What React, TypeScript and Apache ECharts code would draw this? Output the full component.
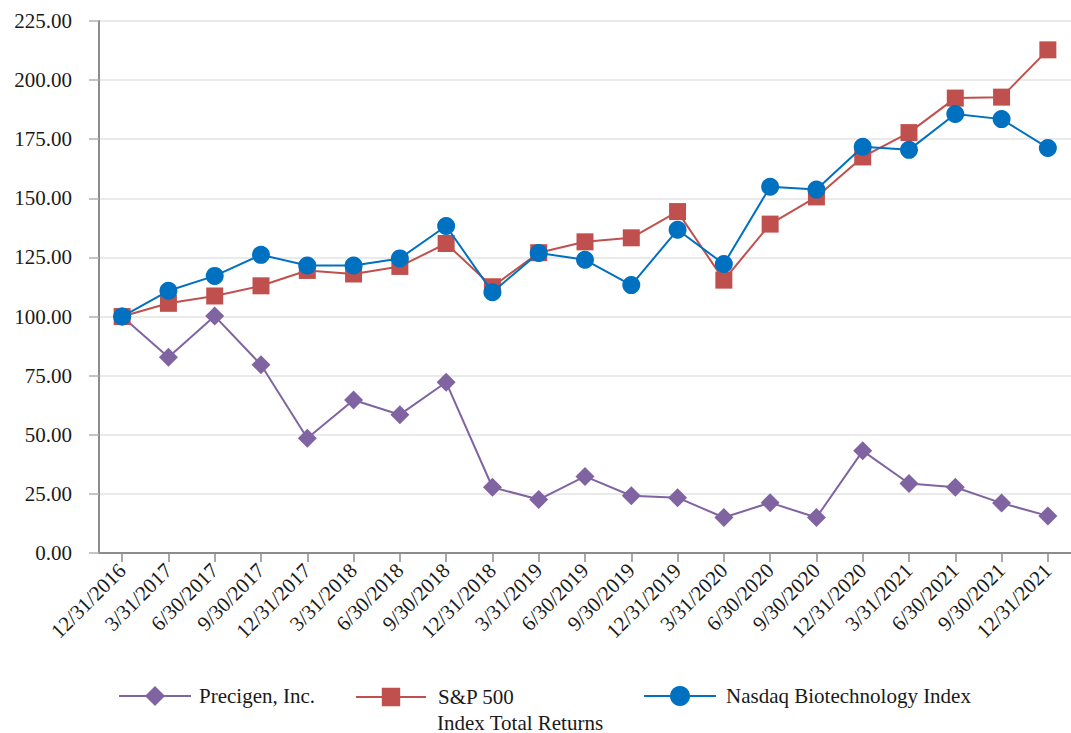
import React, { useEffect, useRef } from "react";
import * as echarts from "echarts";

const categories = [
  "12/31/2016", "3/31/2017", "6/30/2017", "9/30/2017", "12/31/2017",
  "3/31/2018", "6/30/2018", "9/30/2018", "12/31/2018", "3/31/2019",
  "6/30/2019", "9/30/2019", "12/31/2019", "3/31/2020", "6/30/2020",
  "9/30/2020", "12/31/2020", "3/31/2021", "6/30/2021", "9/30/2021",
  "12/31/2021",
];

const precigen = [100, 82.8, 100.2, 79.6, 48.5, 64.7, 58.5, 72.2, 27.8, 22.6, 32.4, 24.2, 23.4, 15.0, 21.3, 15.0, 43.2, 29.4, 27.8, 21.1, 15.7];
const sp500 = [100, 105.6, 108.7, 113.0, 119.5, 118.0, 121.2, 130.9, 112.6, 127.0, 131.6, 133.3, 144.4, 115.4, 139.1, 150.6, 167.5, 177.8, 192.4, 192.8, 212.8];
const nasdaq = [100, 110.9, 117.2, 126.1, 121.6, 121.6, 124.6, 138.3, 110.3, 126.9, 124.0, 113.3, 136.7, 122.2, 154.9, 153.7, 171.8, 170.5, 185.7, 183.5, 171.3];

const seriesNames = ["Precigen, Inc.", "S&P 500 Index Total Returns", "Nasdaq Biotechnology Index"];
const spLegendLines = ["S&P 500", "Index Total Returns"];
const yTicks = { min: 0, max: 225, interval: 25 };

const FONT = "Liberation Serif, Times New Roman, serif";
const PURPLE = "#8064A2";
const RED = "#C0504D";
const BLUE = "#0070C0";
const TEXT = "#1a1a1a";

export default function App() {
  const ref = useRef<HTMLDivElement>(null);
  useEffect(() => {
    if (!ref.current) return;
    const chart = echarts.init(ref.current, null, { renderer: "svg" });
    const legendBase = {
      orient: "horizontal",
      padding: 0,
      top: 685.5,
      itemHeight: 25,
      itemWidth: 72,
      selectedMode: false,
      textStyle: { fontFamily: FONT, fontSize: 21, color: TEXT },
    };
    chart.setOption({
      animation: false,
      backgroundColor: "#ffffff",
      textStyle: { fontFamily: FONT },
      grid: { left: 99, right: -10, top: 21, bottom: 180, containLabel: false },
      legend: [
        {
          ...legendBase,
          left: 118,
          data: [seriesNames[0]],
          textStyle: { ...legendBase.textStyle, padding: [0, 0, 0, 3] },
        },
        {
          ...legendBase,
          left: 355,
          top: 686.5,
          itemWidth: 70,
          itemHeight: 23,
          data: [seriesNames[1]],
          formatter: () => spLegendLines[0],
          textStyle: { ...legendBase.textStyle, padding: [0, 0, 0, 7] },
        },
        {
          ...legendBase,
          left: 643,
          data: [seriesNames[2]],
          textStyle: { ...legendBase.textStyle, padding: [0, 0, 0, 5] },
        },
      ],
      graphic: [
        {
          type: "text",
          left: 437,
          top: 712,
          style: {
            text: spLegendLines[1],
            fontFamily: FONT,
            fontSize: 21,
            lineHeight: 20,
            fill: TEXT,
          },
        },
      ],
      xAxis: {
        type: "category",
        data: categories,
        boundaryGap: true,
        axisLine: { show: true, lineStyle: { color: "#8c8c8c", width: 2 } },
        axisTick: { show: true, alignWithLabel: true, length: 9, lineStyle: { color: "#8c8c8c", width: 1.5 } },
        axisLabel: {
          interval: 0,
          rotate: 45,
          margin: 14,
          fontFamily: FONT,
          fontSize: 21,
          color: TEXT,
        },
        splitLine: { show: false },
      },
      yAxis: {
        type: "value",
        min: yTicks.min,
        max: yTicks.max,
        interval: yTicks.interval,
        axisLine: { show: true, lineStyle: { color: "#8c8c8c", width: 2 } },
        axisTick: { show: true, length: 10, lineStyle: { color: "#b0b0b0", width: 1.5 } },
        axisLabel: {
          margin: 27,
          fontFamily: FONT,
          fontSize: 21,
          color: TEXT,
          formatter: (v: number) => v.toFixed(2),
        },
        splitLine: { show: true, lineStyle: { color: "#e3e3e3", width: 1.5 } },
      },
      series: [
        {
          name: seriesNames[0],
          type: "line",
          data: precigen,
          symbol: "diamond",
          symbolSize: 19,
          itemStyle: { color: PURPLE },
          lineStyle: { color: PURPLE, width: 2 },
          z: 2,
        },
        {
          name: seriesNames[1],
          type: "line",
          data: sp500,
          symbol: "rect",
          symbolSize: 17,
          itemStyle: { color: RED },
          lineStyle: { color: RED, width: 2 },
          z: 3,
        },
        {
          name: seriesNames[2],
          type: "line",
          data: nasdaq,
          symbol: "circle",
          symbolSize: 18,
          itemStyle: { color: BLUE },
          lineStyle: { color: BLUE, width: 2 },
          z: 4,
        },
      ],
    });
    return () => chart.dispose();
  }, []);
  return (
    <div
      ref={ref}
      style={{ position: "absolute", left: 0, top: 0, width: 1071, height: 733, background: "#fff" }}
    />
  );
}
